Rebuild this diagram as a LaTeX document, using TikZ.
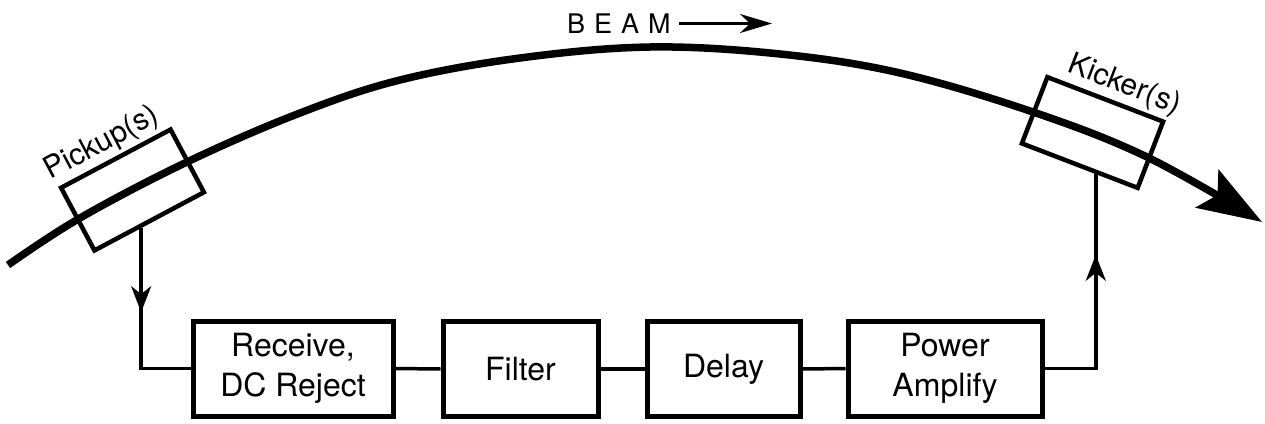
\documentclass[tikz,border=0pt]{standalone}
\usepackage{fontspec}
\setmainfont{TeX Gyre Heros}
\usetikzlibrary{arrows.meta,decorations.markings,calc}
\begin{document}
\begin{tikzpicture}[x=1pt,y=-1pt,
  blk/.style={draw,line width=5pt,minimum height=95pt,font=\fontsize{32}{40}\selectfont,align=center,inner sep=0pt},
  wire/.style={line width=3.5pt},
  detector/.style={draw,line width=4.5pt,minimum width=124pt,minimum height=71pt,inner sep=0pt},
  lbl/.style={font=\fontsize{30}{34}\selectfont,inner sep=3pt},
  midtip/.style={decoration={markings,mark=at position #1 with {\arrow{Stealth[length=26pt,width=20pt,inset=8pt]}}},postaction={decorate}}
]
\useasboundingbox (0,0) rectangle (1265,423);

% beam
\draw[line width=7.5pt,-{Stealth[length=64pt,width=44pt,inset=12pt]}]
  plot[smooth,tension=0.6] coordinates {(8,265) (80,218) (187,162) (300,113) (400,80) (520,58) (650,47) (780,54) (900,73) (1033,112) (1147,157) (1262,222)};

% pickup and kicker
\node[detector,rotate=28] (pick) at (132.5,190) {};
\node[detector,rotate=-21] (kick) at (1092.5,132.5) {};
\node[lbl,anchor=south,rotate=28] (picklbl) at ($(pick.north)!0.08!(pick.north west)$) {Pickup(s)};
\node[lbl,anchor=south,rotate=-21] (kicklbl) at ($(kick.north)!0.2!(kick.north east)$) {Kicker(s)};

% beam label
\node[font=\fontsize{27}{30}\selectfont,anchor=west,inner sep=8pt] (beam) at (559,23.5) {B\hspace{9pt}E\hspace{9pt}A\hspace{9pt}M};
\coordinate (beamtip) at (772,23.5);
\draw[line width=2.5pt,-{Stealth[length=32pt,width=19pt,inset=10pt]}] (beam.east) -- (beamtip);

% blocks
\node[blk,minimum width=200pt] (rec) at (293,368.5) {Receive,\\DC Reject};
\node[blk,minimum width=155pt] (fil) at (520.5,369) {Filter};
\node[blk,minimum width=153pt] (del) at (723.5,369) {Delay};
\node[blk,minimum width=194pt] (amp) at (945,368.5) {Power\\Amplify};

% connectors
\draw[wire,midtip=84pt] ($(pick.south)!0.16!(pick.south west)$) |- (rec.west);
\draw[wire] (rec.east) -- (fil.west);
\draw[wire] (fil.east) -- (del.west);
\draw[wire] (del.east) -- (amp.west);
\draw[wire,midtip=165pt] (amp.east) -| ($(kick.south)!0.28!(kick.south east)$);
\end{tikzpicture}
\end{document}
